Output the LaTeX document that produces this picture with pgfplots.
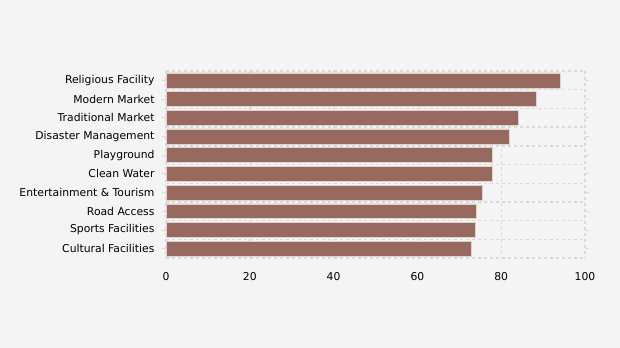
\documentclass[border=0pt]{standalone}
\usepackage{pgfplots}
\pgfplotsset{compat=1.18}
\usepackage{fontspec}
\setmainfont{DejaVu Sans}
\definecolor{bgc}{HTML}{F4F4F4}
\definecolor{barc}{HTML}{98695E}
\definecolor{gridc}{HTML}{D9D9D9}
\begin{document}
\begin{tikzpicture}
\fill[bgc] (0,0) rectangle (620bp,348bp);
\useasboundingbox (0,0) rectangle (620bp,348bp);
\begin{axis}[
  at={(166bp,90bp)}, anchor=south west,
  scale only axis, width=419bp, height=187bp,
  xmin=0, xmax=100, ymin=-0.5, ymax=9.5,
  y dir=reverse,
  xtick={0,20,40,60,80,100},
  ytick={0,...,9},
  yticklabels={Religious Facility,Modern Market,Traditional Market,Disaster Management,Playground,Clean Water,Entertainment \& Tourism,Road Access,Sports Facilities,Cultural Facilities},
  minor ytick={-0.5,0.5,...,9.5},
  xmajorgrids=true, yminorgrids=true,
  major grid style={gridc, line width=1.4bp, dash pattern=on 3bp off 3bp},
  minor grid style={gridc, line width=1.4bp, dash pattern=on 3bp off 3bp},
  axis line style={draw=none},
  tick align=outside,
  major tick length=4bp, minor tick length=0pt,
  xtick style={draw=none},
  ytick style={gridc, line width=0.8bp},
  tick label style={font=\fontsize{10.8bp}{12bp}\selectfont, text=black},
  xticklabel style={yshift=-7bp},
  yticklabel style={xshift=-4bp},
  /pgf/number format/assume math mode=true,
  xbar, bar width=0.8, bar shift=0pt,
]
\addplot[fill=barc, draw=white!70!barc, line width=0.5bp] coordinates {
(94.0,0) (88.3,1) (84.0,2) (81.9,3) (77.8,4) (77.9,5) (75.5,6) (74.0,7) (73.7,8) (72.8,9)
};
\end{axis}
\end{tikzpicture}
\end{document}
